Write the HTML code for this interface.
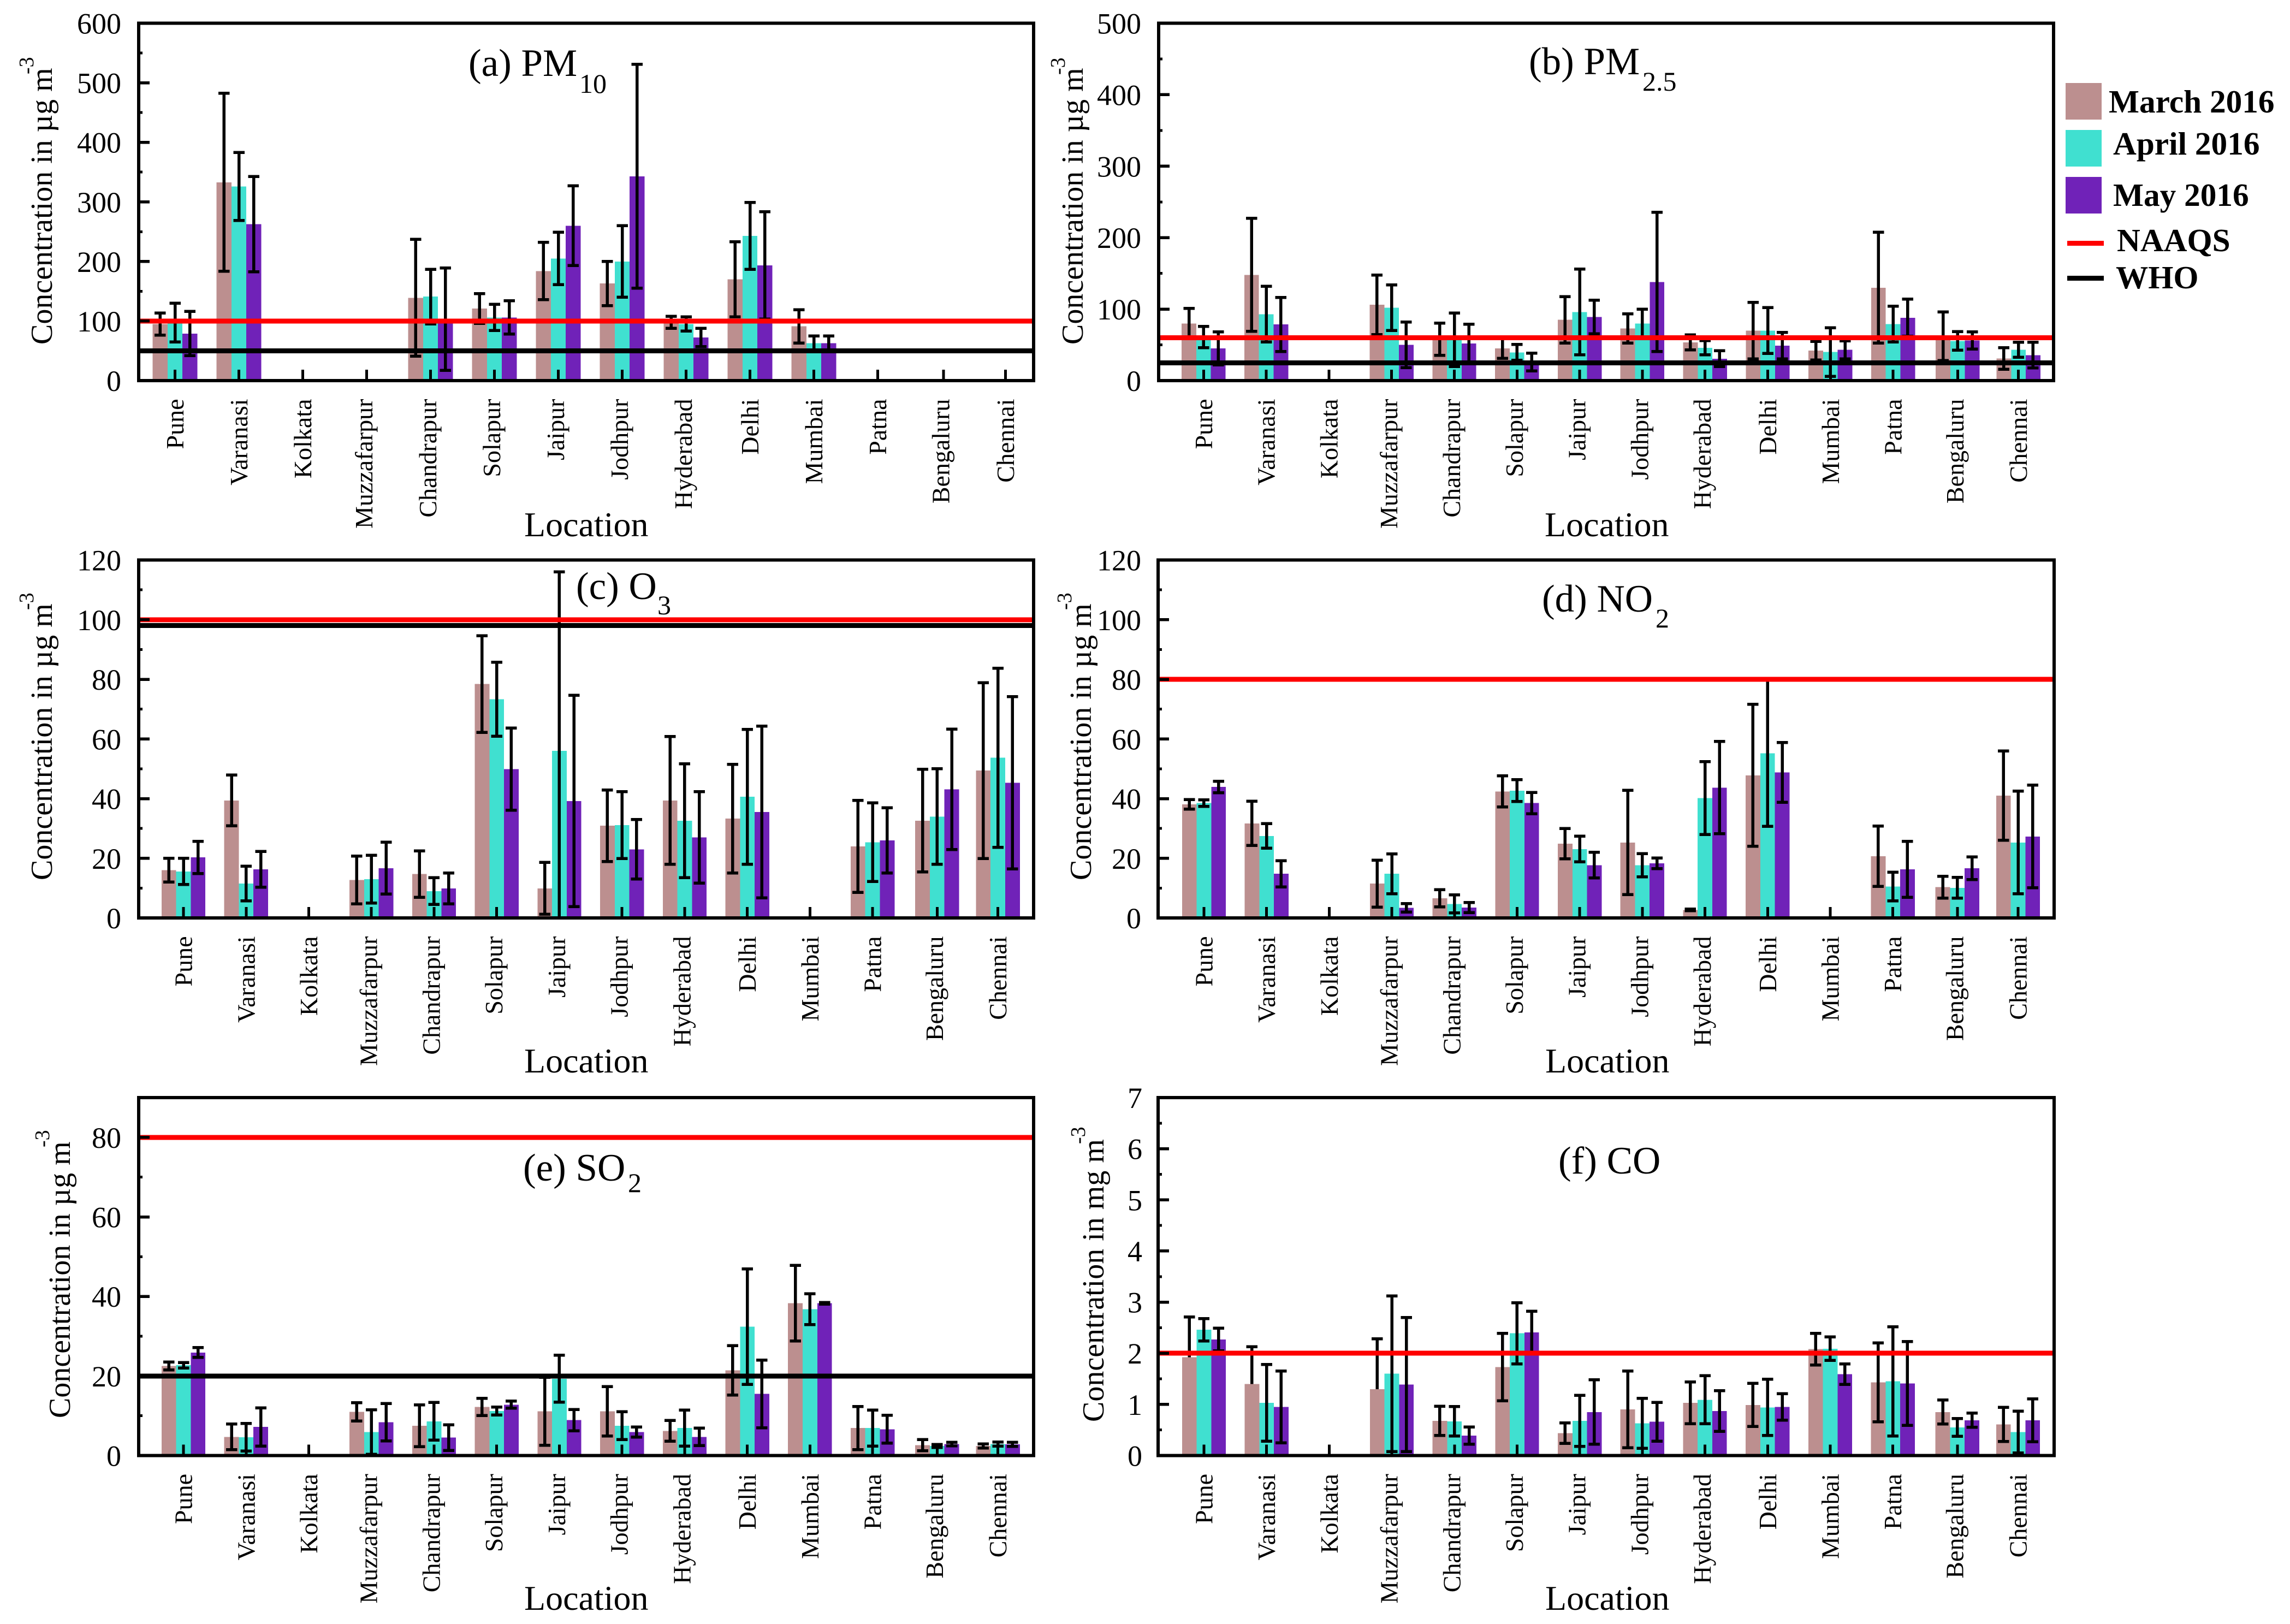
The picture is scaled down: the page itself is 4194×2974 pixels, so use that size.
<!DOCTYPE html>
<html lang="en">
<head>
<meta charset="utf-8">
<title>Air pollutant concentrations by location</title>
<style>
html,body{margin:0;padding:0;background:#fff;}
svg{display:block;}
rect{shape-rendering:crispEdges;}
text{font-family:"Liberation Serif","Noto Serif CJK SC",serif;fill:#000;}
</style>
</head>
<body>
<svg id="figure" xmlns="http://www.w3.org/2000/svg" width="4194" height="2974" viewBox="0 0 4194 2974">
  <rect x="0" y="0" width="4194" height="2974" fill="#ffffff"/>
  <g id="plots"></g>

  <text font-size="71"><tspan x="858" y="139">(a) PM</tspan><tspan x="1061" y="170" font-size="50">10</tspan></text>
  <text font-size="71"><tspan x="2800" y="136">(b) PM</tspan><tspan x="3008" y="166" font-size="50">2.5</tspan></text>
  <text font-size="71"><tspan x="1055" y="1097">(c) O</tspan><tspan x="1204" y="1125" font-size="50">3</tspan></text>
  <text font-size="71"><tspan x="2824" y="1120">(d) NO</tspan><tspan x="3032" y="1149" font-size="50">2</tspan></text>
  <text font-size="71"><tspan x="958" y="2162">(e) SO</tspan><tspan x="1150" y="2183" font-size="50">2</tspan></text>
  <text font-size="71" x="2854" y="2149">(f) CO</text>

  <text font-size="64" x="960" y="982">Location</text>
  <text font-size="64" x="2829" y="982">Location</text>
  <text font-size="64" x="960" y="1964">Location</text>
  <text font-size="64" x="2830" y="1964">Location</text>
  <text font-size="64" x="960" y="2948">Location</text>
  <text font-size="64" x="2830" y="2948">Location</text>

  <text font-size="56" transform="translate(95,631) rotate(-90)">Concentration in µg m</text>
  <text font-size="38" transform="translate(61,136) rotate(-90)">-3</text>
  <text font-size="56" transform="translate(1983,631) rotate(-90)">Concentration in µg m</text>
  <text font-size="38" transform="translate(1950,137) rotate(-90)">-3</text>
  <text font-size="56" transform="translate(95,1612) rotate(-90)">Concentration in µg m</text>
  <text font-size="38" transform="translate(61,1117) rotate(-90)">-3</text>
  <text font-size="56" transform="translate(1998,1612) rotate(-90)">Concentration in µg m</text>
  <text font-size="38" transform="translate(1962,1117) rotate(-90)">-3</text>
  <text font-size="56" transform="translate(128,2597) rotate(-90)">Concentration in µg m</text>
  <text font-size="38" transform="translate(90,2101) rotate(-90)">-3</text>
  <text font-size="56" transform="translate(2021,2604) rotate(-90)">Concentration in mg m</text>
  <text font-size="38" transform="translate(1987,2095) rotate(-90)">-3</text>

  <g>
    <rect x="3783" y="152" width="66" height="67" fill="#BC8F8F"/>
    <rect x="3783" y="238" width="66" height="67" fill="#40E0D0"/>
    <rect x="3783" y="324" width="66" height="67" fill="#7022B8"/>
    <rect x="3786" y="441" width="67" height="9" fill="#FF0000"/>
    <rect x="3786" y="505" width="67" height="9" fill="#000000"/>
    <text x="3862" y="206" font-size="59.3" font-weight="700">March 2016</text>
    <text x="3870" y="283" font-size="59.3" font-weight="700">April 2016</text>
    <text x="3870" y="377" font-size="59.3" font-weight="700">May 2016</text>
    <text x="3877" y="460" font-size="59.3" font-weight="700">NAAQS</text>
    <text x="3875" y="528" font-size="59.3" font-weight="700">WHO</text>
  </g>
</svg>

<script>
const categories = ["Pune","Varanasi","Kolkata","Muzzafarpur","Chandrapur","Solapur","Jaipur","Jodhpur","Hyderabad","Delhi","Mumbai","Patna","Bengaluru","Chennai"];
const seriesNames = ["March 2016","April 2016","May 2016"];
const seriesColors = ["#BC8F8F","#40E0D0","#7022B8"];

const pm10March = [95,333,null,null,139,121,184,163,98,170,91,null,null,null];
const pm10MarchErr = [18.5,149.5,null,null,98,25,48,37,10,63,28,null,null,null];
const pm10April = [97.5,326,null,null,141,106,205,200,95,243,63,null,null,null];
const pm10AprilErr = [32.5,57,null,null,46,22,44,60,12,56,12,null,null,null];
const pm10May = [79,262.5,null,null,103,106,260,343,72.5,193.5,63,null,null,null];
const pm10MayErr = [37,80,null,null,86,28,67,188,15.5,90,12,null,null,null];
const pm10Ticks = [0,100,200,300,400,500,600];

const pm25March = [80,148,null,106,58,45,85,73,53.6,70,42,130,62,31];
const pm25MarchErr = [21,79,null,41.5,22.5,14,32.5,20.5,10.5,39.5,13,77.5,34,15];
const pm25April = [61,93,null,102,57,39.5,96,80,46,70,40,79,55.5,43];
const pm25AprilErr = [15,39,null,32,37.5,11,60,20,10,32,34,25,13,10.5];
const pm25May = [45,78.5,null,50,52,26,89,138,30.7,49,43,88,56,35.6];
const pm25MayErr = [23,38,null,32,27,12.5,23.5,97.5,11,18.5,12.5,26,12,18];
const pm25Ticks = [0,100,200,300,400,500];

const o3March = [16,39.4,null,12.7,14.7,78.4,9.9,30.9,39.4,33.3,null,24,32.6,49.4];
const o3MarchErr = [4,8.5,null,8,7.8,16.2,8.7,12,21.4,18.2,null,15.4,17.2,29.5];
const o3April = [15.6,11.5,null,13,9,73.3,56,31.1,32.6,40.6,null,25.4,34,53.7];
const o3AprilErr = [4.4,5.8,null,8,4.5,12.4,60,11.2,19.1,22.6,null,13.2,16,30];
const o3May = [20.3,16.3,null,16.7,9.9,49.9,39.2,23,27,35.5,null,26,43.1,45.3];
const o3MayErr = [5.4,6,null,8.7,5.2,13.8,35.4,10,15.3,28.8,null,10.9,20.2,28.9];
const o3Ticks = [0,20,40,60,80,100,120];

const no2March = [38.1,31.7,null,11.5,6.6,42.4,24.9,25.3,2.7,47.8,null,20.7,10.3,41];
const no2MarchErr = [1.6,7.4,null,7.9,2.9,5.2,5.1,17.5,0.3,23.8,null,10.1,3.7,15];
const no2April = [38.5,27.5,null,14.8,4.7,42.7,23.1,17.7,40.2,55.2,null,10.5,10.1,25.3];
const no2AprilErr = [1.1,4.1,null,6.7,3,3.7,4.3,3.9,12.2,24.5,null,4.8,3.5,17.2];
const no2May = [43.9,14.8,null,3.4,3.5,38.5,17.7,18.3,43.7,48.8,null,16.3,16.7,27.3];
const no2MayErr = [1.9,4.4,null,1.4,1.7,3.6,4.3,1.8,15.5,10,null,9.4,3.8,17.2];
const no2Ticks = [0,20,40,60,80,100,120];

const so2March = [22.5,4.7,null,11,7.5,12.2,11.1,11.1,6.2,21.4,38.3,6.9,2.6,2.4];
const so2MarchErr = [1,3.25,null,2.3,5.25,2.15,8.55,6.2,2.6,6.2,9.5,5.4,1.4,0.5];
const so2April = [22.7,4.6,null,5.9,8.6,11.2,19.3,7.5,6.9,32.4,36.8,6.9,2.4,2.9];
const so2AprilErr = [0.7,3.5,null,5.6,4.75,1,5.9,3.5,4.5,14.5,3.9,4.5,0.4,0.5];
const so2May = [25.9,7.2,null,8.4,4.5,12.8,8.9,5.9,4.7,15.5,38.3,6.6,2.9,2.8];
const so2MayErr = [1.25,4.8,null,4.7,3.2,0.9,2.7,1.25,2.2,8.5,0.2,3.5,0.45,0.5];
const so2Ticks = [0,20,40,60,80];

const coMarch = [1.92,1.4,null,1.3,0.68,1.73,0.44,0.9,1.03,0.99,2.08,1.43,0.85,0.61];
const coMarchErr = [0.79,0.73,null,0.98,0.285,0.66,0.2,0.75,0.41,0.42,0.31,0.77,0.235,0.335];
const coApril = [2.46,1.03,null,1.6,0.67,2.39,0.68,0.63,1.09,0.94,2.09,1.45,0.55,0.46];
const coAprilErr = [0.22,0.75,null,1.52,0.29,0.6,0.5,0.49,0.47,0.55,0.23,1.07,0.175,0.41];
const coMay = [2.27,0.95,null,1.39,0.39,2.41,0.85,0.66,0.87,0.95,1.59,1.41,0.69,0.69];
const coMayErr = [0.22,0.7,null,1.31,0.17,0.41,0.63,0.38,0.4,0.26,0.2,0.82,0.14,0.42];
const coTicks = [0,1,2,3,4,5,6,7];
const coUpperOnly = ["Pune:0","Varanasi:0","Muzzafarpur:0"];

const pm10Limits = [100,50];
const pm25Limits = [60,25];
const o3Limits = [100,98];
const no2Limits = [80,null];
const so2Limits = [80,20];
const coLimits = [2,null];

const NS = "http://www.w3.org/2000/svg";
const plotsRoot = document.getElementById("plots");

function makeEl(tag, parent, props) {
  const el = document.createElementNS(NS, tag);
  for (const k in props) el.setAttribute(k, props[k]);
  parent.appendChild(el);
  return el;
}

function drawPanel(p) {
  const g = makeEl("g", plotsRoot, {});
  
  

  const yScale = v => p.bottom - (v - 0) / p.yMax * (p.bottom - p.top);
  const step = (p.right - p.left) / (p.xMax - p.xMin);
  const xScale = i => {
    const nudge = categories[i] === "Bengaluru" ? 0.03 : 0;
    return p.left + (i + 1 + nudge - p.xMin) * step;
  };
  const barW = step * 0.2333;

  // bars
  p.values.forEach((vals, s) => {
    vals.forEach((v, i) => {
      if (v === null) return;
      const x = xScale(i) + (s - 1) * barW - barW / 2;
      const bar = makeEl("rect", g, {x: x, y: yScale(v), width: barW, height: Math.max(0, yScale(0) - yScale(v)), fill: seriesColors[s]});
      
      
    });
  });

  // error bars
  p.values.forEach((vals, s) => {
    vals.forEach((v, i) => {
      if (v === null) return;
      const e = p.errors[s][i];
      const cx = xScale(i) + (s - 1) * barW;
      const upperOnly = (p.upperOnly || []).includes(categories[i] + ":" + s);
      const hi = v + e;
      const lo = upperOnly ? v : v - e;
      const eg = makeEl("g", g, {});
      
      
      const yHi = yScale(hi);
      const yLo = yScale(Math.max(lo, 0));
      makeEl("rect", eg, {x: cx - 2.75, y: yHi, width: 5.5, height: Math.max(0, yLo - yHi), fill: "#000"});
      makeEl("rect", eg, {x: cx - 10.25, y: yHi - 2.75, width: 20.5, height: 5.5, fill: "#000"});
      if (!upperOnly && lo >= 0) {
        makeEl("rect", eg, {x: cx - 10.25, y: yLo - 2.75, width: 20.5, height: 5.5, fill: "#000"});
      }
    });
  });

  // limit lines
  if (p.limits[1] !== null) {
    const who = makeEl("rect", g, {x: p.left, y: yScale(p.limits[1]) - 4.5, width: p.right - p.left, height: 9, fill: "#000000"});
    
    
  }
  if (p.limits[0] !== null) {
    const naaqs = makeEl("rect", g, {x: p.left, y: yScale(p.limits[0]) - 4.5, width: p.right - p.left, height: 9, fill: "#FF0000"});
    
    
  }

  // y ticks and labels
  p.ticks.forEach((t, idx) => {
    const y = yScale(t);
    const tick = makeEl("rect", g, {x: p.left, y: y - 2.75, width: 20, height: 5.5, fill: "#000"});
    
    
    const lab = makeEl("text", g, {x: p.labelRight, y: y + 19, "font-size": 54, "text-anchor": "end"});
    
    
    lab.textContent = String(t);
    if (idx < p.ticks.length - 1 || p.yMax > t) {
      const next = idx < p.ticks.length - 1 ? p.ticks[idx + 1] : t + (t - p.ticks[idx - 1]);
      const mid = (t + next) / 2;
      if (mid < p.yMax) {
        const minor = makeEl("rect", g, {x: p.left, y: yScale(mid) - 2.5, width: 7, height: 5, fill: "#000"});
        
        
      }
    }
  });

  // x ticks and category labels
  categories.forEach((c, i) => {
    const x = xScale(i);
    const tick = makeEl("rect", g, {x: x - 2.5, y: p.bottom - 20, width: 5, height: 20, fill: "#000"});
    
    
    const base = x + (/[pyg]/.test(c) ? 10.5 : 15.5);
    const lab = makeEl("text", g, {"font-size": 46, "text-anchor": "end", transform: "translate(" + base + "," + (p.bottom + 33.5) + ") rotate(-90)"});
    
    
    lab.textContent = c;
  });

  // frame
  const frame = makeEl("rect", g, {x: p.left, y: p.top, width: p.right - p.left, height: p.bottom - p.top, fill: "none", stroke: "#000", "stroke-width": 6});
  
  
}

drawPanel({key:"pm10", left:254, right:1893, top:42.5, bottom:697, xMin:0.4316, xMax:14.44, yMax:600, labelRight:222, ticks:pm10Ticks, limits:pm10Limits,
  values:[pm10March,pm10April,pm10May], errors:[pm10MarchErr,pm10AprilErr,pm10MayErr]});
drawPanel({key:"pm25", left:2122, right:3761, top:42.5, bottom:697, xMin:0.283, xMax:14.56, yMax:500, labelRight:2090, ticks:pm25Ticks, limits:pm25Limits,
  values:[pm25March,pm25April,pm25May], errors:[pm25MarchErr,pm25AprilErr,pm25MayErr]});
drawPanel({key:"o3", left:254, right:1893, top:1025.5, bottom:1681, xMin:0.285, xMax:14.57, yMax:120, labelRight:222, ticks:o3Ticks, limits:o3Limits,
  values:[o3March,o3April,o3May], errors:[o3MarchErr,o3AprilErr,o3MayErr]});
drawPanel({key:"no2", left:2121, right:3762, top:1025.5, bottom:1681, xMin:0.268, xMax:14.575, yMax:120, labelRight:2090, ticks:no2Ticks, limits:no2Limits,
  values:[no2March,no2April,no2May], errors:[no2MarchErr,no2AprilErr,no2MayErr]});
drawPanel({key:"so2", left:254, right:1893, top:2010, bottom:2665.5, xMin:0.285, xMax:14.57, yMax:90, labelRight:222, ticks:so2Ticks, limits:so2Limits,
  values:[so2March,so2April,so2May], errors:[so2MarchErr,so2AprilErr,so2MayErr]});
drawPanel({key:"co", left:2121, right:3762, top:2010, bottom:2665.5, xMin:0.268, xMax:14.575, yMax:7, labelRight:2092, ticks:coTicks, limits:coLimits,
  values:[coMarch,coApril,coMay], errors:[coMarchErr,coAprilErr,coMayErr], upperOnly:coUpperOnly});
</script>
</body>
</html>
